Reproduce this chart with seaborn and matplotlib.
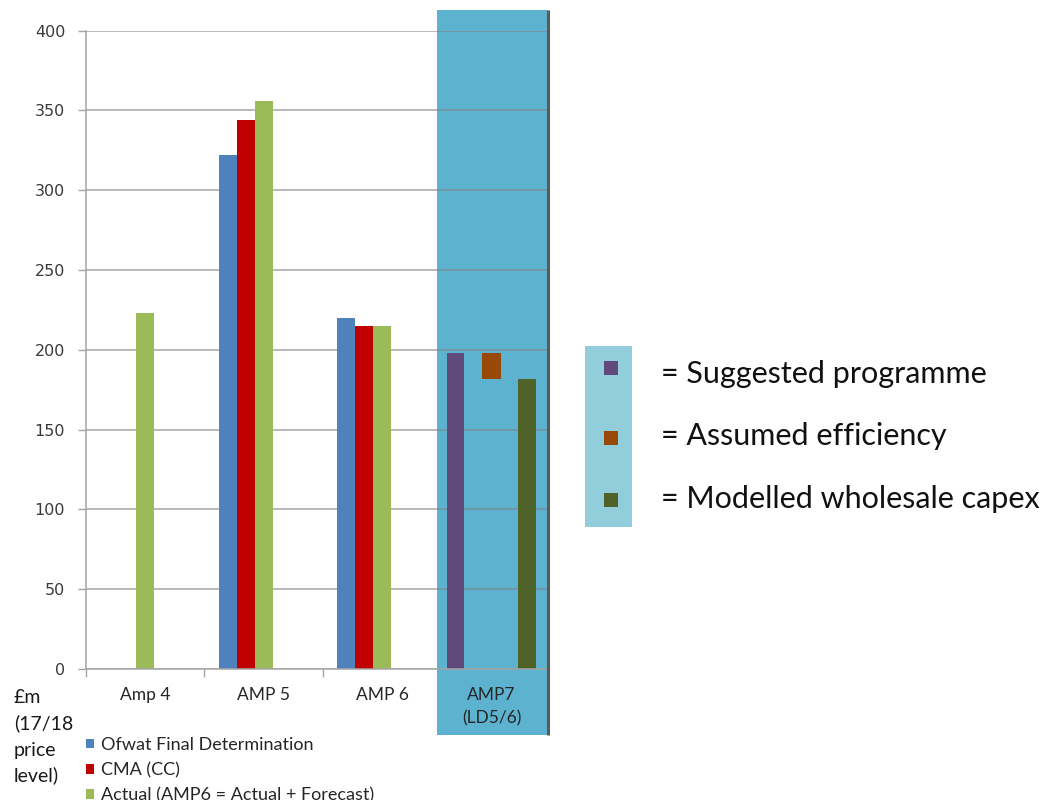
import numpy as np
import pandas as pd
import matplotlib
matplotlib.use("Agg")
import matplotlib.pyplot as plt
import seaborn as sns
from matplotlib.patches import Rectangle, Patch
from matplotlib.transforms import blended_transform_factory

# ---- data -------------------------------------------------------------
periods = ["Amp 4", "AMP 5", "AMP 6"]
ofwat_fd = [np.nan, 322, 220]
cma_cc = [np.nan, 344, 215]
actual = [223, 356, 215]
series_names = ["Ofwat Final Determination", "CMA (CC)",
                "Actual (AMP6 = Actual + Forecast)"]
series_colors = ["#4F81BD", "#C00000", "#9BBB59"]

amp7_label = "AMP7\n(LD5/6)"
suggested_programme = 198
modelled_capex = 182
assumed_efficiency = suggested_programme - modelled_capex
amp7_names = ["= Suggested programme", "= Assumed efficiency",
              "= Modelled wholesale capex"]
amp7_colors = ["#604A7B", "#984807", "#4F6228"]

y_ticks = list(range(0, 401, 50))
unit_lines = ["£m", "(17/18", "price", "level)"]

# ---- long-form frame for seaborn -------------------------------------
rows = []
for name, vals in zip(series_names, [ofwat_fd, cma_cc, actual]):
    for p, v in zip(periods, vals):
        if not np.isnan(v):
            rows.append({"period": p, "series": name, "value": v})
df = pd.DataFrame(rows)

sns.set_style("white")
plt.rcParams["font.family"] = ["Lato", "DejaVu Sans"]

W, H = 1047, 800
fig = plt.figure(figsize=(W / 100, H / 100), dpi=100)
ax_left, ax_right, ax_bottom, ax_top = 86, 548, 669, 30.7
ax = fig.add_axes([ax_left / W, (H - ax_bottom) / H,
                   (ax_right - ax_left) / W, (ax_bottom - ax_top) / H])

bar_w = 0.152
sns.barplot(data=df, x="period", y="value", hue="series", order=periods,
            hue_order=series_names, palette=series_colors, width=3 * bar_w,
            dodge=True, errorbar=None, legend=False, saturation=1,
            linewidth=0, ax=ax)

# AMP7 block: suggested programme, efficiency step, modelled capex
amp7_x = 3.075
ax.bar(amp7_x - 0.305, suggested_programme, width=0.146,
       color=amp7_colors[0], linewidth=0, zorder=2)
ax.bar(amp7_x, assumed_efficiency, bottom=modelled_capex, width=0.154,
       color=amp7_colors[1], linewidth=0, zorder=2)
ax.bar(amp7_x + 0.30, modelled_capex, width=0.152,
       color=amp7_colors[2], linewidth=0, zorder=2)

x_lo, x_hi = -0.348, 3.551
ax.set_xlim(x_lo, x_hi)
ax.set_ylim(0, 400)

# highlighted AMP7 panel
blend = blended_transform_factory(ax.transData, ax.transAxes)
panel_lo, panel_top = -0.1034, 1.0324
ax.add_patch(Rectangle((2.616, panel_lo), x_hi - 2.616, panel_top - panel_lo,
                       transform=blend, clip_on=False, facecolor="#5DB3CF",
                       edgecolor="none", zorder=0.3))
ax.plot([x_hi, x_hi], [panel_lo, panel_top], transform=blend, clip_on=False,
        color="#5A5A5A", lw=2.2, zorder=3, solid_capstyle="butt")

# axes styling
for s in ["top", "right"]:
    ax.spines[s].set_visible(False)
for s in ["left", "bottom"]:
    ax.spines[s].set_color("#A6A6A6")
    ax.spines[s].set_linewidth(1.1)
ax.set_axisbelow(True)
ax.yaxis.grid(True, color="#808080", alpha=0.7, lw=1.1)
ax.xaxis.grid(False)

ax.set_yticks(y_ticks)
ax.set_yticklabels([str(v) for v in y_ticks], family="DejaVu Sans",
                   fontsize=11.5, color="#3A3A3A")
ax.tick_params(axis="y", direction="out", length=6, width=1,
               color="#A6A6A6", pad=9, left=True)

ax.set_xticks([0.152, 1.152, 2.152, amp7_x])
ax.set_xticklabels(periods + [amp7_label], fontsize=12.5, color="#262626")
for t in ax.get_xticklabels():
    t.set_linespacing(1.55)
ax.set_xticks([x_lo, 0.652, 1.652], minor=True)
ax.tick_params(axis="x", which="major", length=0, pad=13)
ax.tick_params(axis="x", which="minor", direction="out", length=6, width=1,
               color="#A6A6A6", bottom=True)
ax.set_xlabel("")
ax.set_ylabel("")

# unit note in the lower left
for txt, base in zip(unit_lines, [703, 729.5, 756, 781]):
    fig.text(14 / W, 1 - base / H, txt, fontsize=14, color="#1A1A1A",
             ha="left", va="baseline")

# series legend under the axis
leg_handles = [Patch(facecolor=c, edgecolor="none") for c in series_colors]
fig.legend(leg_handles, series_names, loc="upper left",
           bbox_to_anchor=(86 / W, 1 - 737 / H), frameon=False,
           fontsize=13, handlelength=0.45, handleheight=0.45,
           handletextpad=0.4, labelspacing=0.5, borderpad=0,
           borderaxespad=0, labelcolor="#262626")

# AMP7 key on the right
fig.patches.append(Rectangle((585 / W, 1 - 527 / H), 47 / W, 181 / H,
                             transform=fig.transFigure, facecolor="#92CDDC",
                             edgecolor="none"))
for name, c, yc, ty in zip(amp7_names, amp7_colors, [368, 437.5, 500],
                           [374, 436, 499]):
    fig.patches.append(Rectangle((604 / W, 1 - (yc + 7) / H), 14 / W, 14 / H,
                                 transform=fig.transFigure, facecolor=c,
                                 edgecolor="none"))
    fig.text(661 / W, 1 - ty / H, name, fontsize=22, color="#111111",
             ha="left", va="center")

fig.savefig("out.png", dpi=100)
